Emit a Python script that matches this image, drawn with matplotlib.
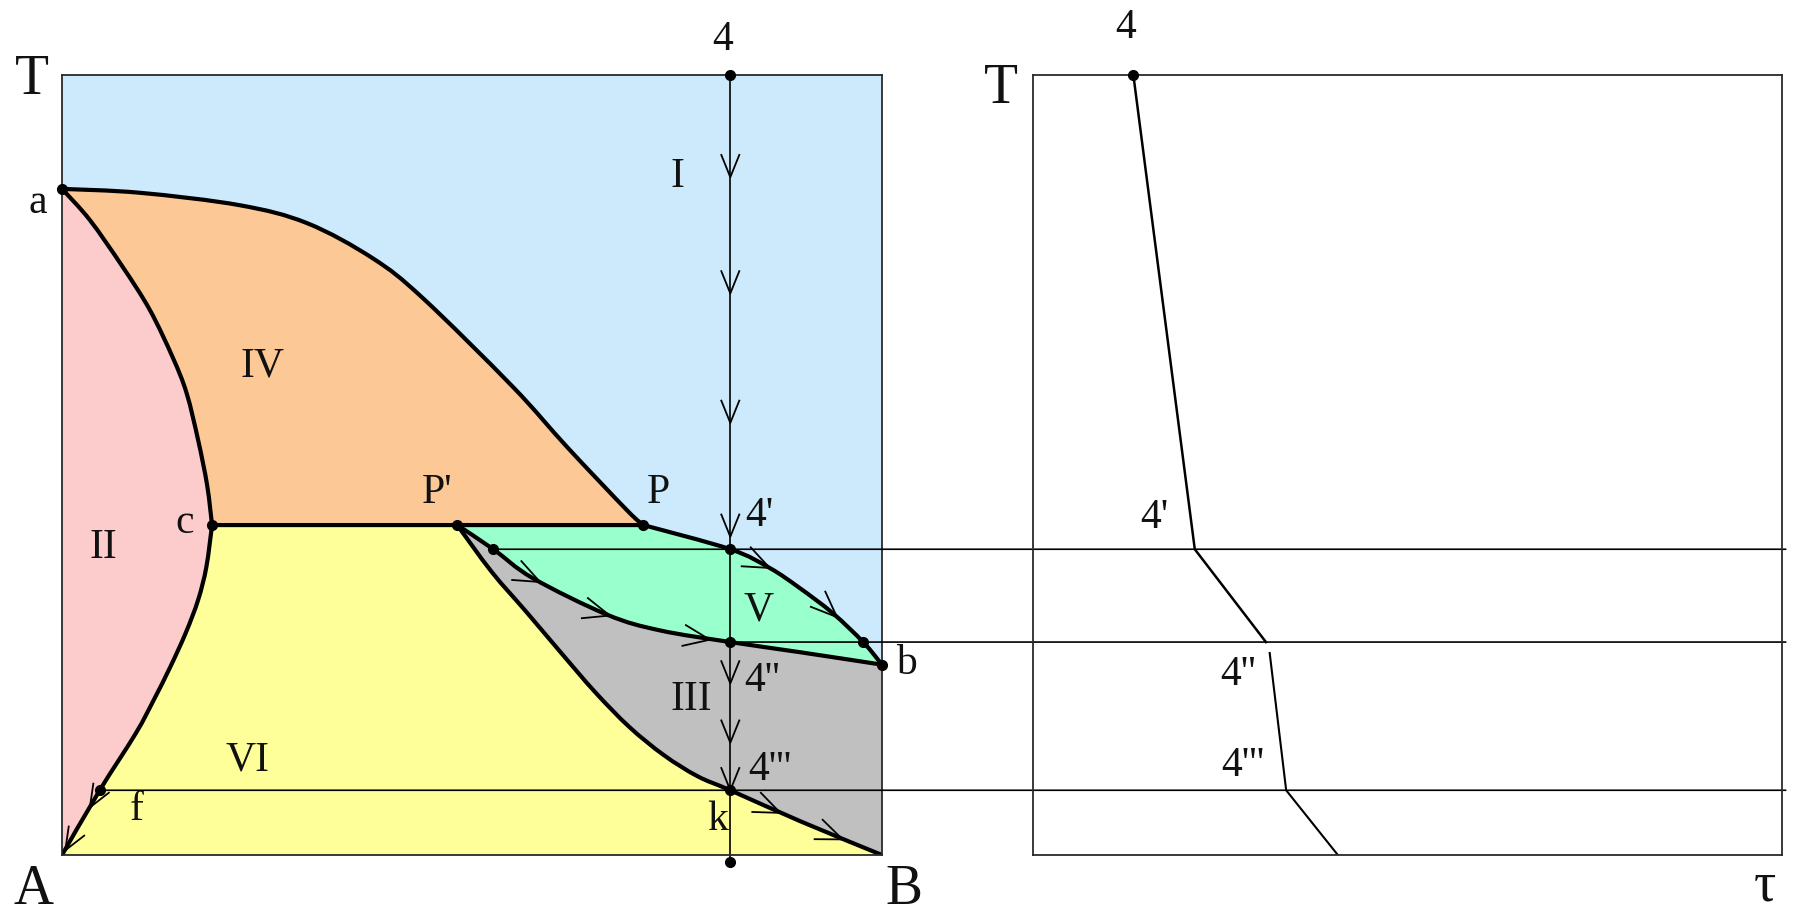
import numpy as np
import matplotlib
matplotlib.use("Agg")
import matplotlib.pyplot as plt
from matplotlib.patches import PathPatch, ConnectionPatch
from matplotlib.path import Path

plt.rcParams['font.family'] = ['Liberation Serif', 'DejaVu Serif']

# A-B diagram: X = % B, T in relative units (0 = bottom of box, 100 = top)
T_per = 42.3          # horizontal c - P' - P
X_alloy = 81.5        # alloy 4
T_4a, T_4b, T_4c = 39.2, 27.3, 8.3   # 4', 4'', 4'''

# liquidus a -> P
liq_x = [0, 9.5, 21.7, 29.9, 37.9, 44.0, 55.0, 61.6, 68.9, 70.9]
liq_t = [85.4, 84.9, 83.3, 81.0, 76.5, 71.4, 60.0, 52.3, 44.2, T_per]
# solidus a -> c
sol_x = [0, 3.4, 7.4, 10.7, 13.5, 15.2, 16.6, 17.7, 18.3]
sol_t = [85.4, 81.4, 75.4, 69.9, 63.8, 59.2, 53.2, 47.4, T_per]
# solvus c -> f -> A
svs_x = [18.3, 17.6, 16.6, 15.1, 13.2, 11.2, 9.0, 4.6, 0]
svs_t = [T_per, 36.9, 32.7, 28.5, 24.1, 19.9, 15.6, T_4c, 0]
# P' -> k -> B
pkb_x = [48.2, 52.4, 56.6, 60.8, 65.0, 69.2, 73.4, 77.5, 81.5, 90.1, 100]
pkb_t = [T_per, 36.3, 31.2, 26.0, 20.9, 16.4, 12.8, 10.1, T_4c, 4.3, 0]
# P -> 4' -> b
up_x = [70.9, 81.5, 86.3, 90.0, 94.0, 97.7, 100]
up_t = [T_per, T_4a, 36.8, 34.2, 31.0, T_4b, 24.4]
# P' -> 4'' -> b
lo_x = [48.2, 52.6, 57.4, 66.5, 72.9, 81.5, 90.0, 100]
lo_t = [T_per, T_4a, 35.5, 30.8, 28.8, T_4b, 26.0, 24.4]
# horizontal c -> P
hor_x = [18.3, 70.9]
hor_t = [T_per, T_per]

# marked points
dot_x = [0, 18.3, 48.2, 70.9, X_alloy, X_alloy, X_alloy, X_alloy, X_alloy, 100, 4.6, 52.6, 97.7]
dot_t = [85.4, T_per, T_per, T_per, 100, T_4a, T_4b, T_4c, -0.9, 24.4, T_4c, T_4a, T_4b]

# arrows along the vertical and along the curves (tip positions)
vert_arrows = [86.9, 72.0, 55.4, 40.8, 22.0, 14.4, T_4c]
up_arrows = [(86.3, 36.8), (94.5, 30.5)]
lo_arrows = [(58.3, 35.0), (66.8, 30.7), (79.0, 27.6)]
pkb_arrows = [(87.6, 5.4), (95.2, 2.0)]
svs_arrows = [(3.4, 6.1), (0.4, 0.6)]

# cooling curve of alloy 4 (tau, T)
cool1_tau = [13.4, 21.6, 31.1]
cool1_t = [100, T_4a, T_4b]
cool2_tau = [31.6, 33.8, 40.7]
cool2_t = [25.9, T_4c, 0]

c_blue = '#CCEAFC'
c_pink = '#FCCCCC'
c_orange = '#FCC996'
c_yellow = '#FFFF99'
c_green = '#99FFCC'
c_grey = '#C0C0C0'
ink = '#111111'


def bezier(xs, ts):
    # catmull-rom through the points, as cubic bezier pieces
    p = np.column_stack([xs, ts]).astype(float)
    ext = np.vstack([p[0], p, p[-1]])
    verts = []
    for i in range(len(p) - 1):
        p0, p1, p2, p3 = ext[i], ext[i + 1], ext[i + 2], ext[i + 3]
        verts += [p1 + (p2 - p0) / 6, p2 - (p3 - p1) / 6, p2]
    return p[0], verts


def smooth_path(pieces, close=False):
    verts, codes = [], []
    for k, (xs, ts) in enumerate(pieces):
        start, rest = bezier(xs, ts)
        verts.append(start)
        codes.append(Path.MOVETO if k == 0 else Path.LINETO)
        verts += rest
        codes += [Path.CURVE4] * len(rest)
    if close:
        verts.append(verts[0])
        codes.append(Path.CLOSEPOLY)
    return Path(np.array(verts), codes)


def rev(xs, ts):
    return xs[::-1], ts[::-1]


fig = plt.figure(figsize=(17.94, 9.13), dpi=100)
ax = fig.add_axes([62 / 1794, 58 / 913, 820 / 1794, 780 / 913])
ax2 = fig.add_axes([1033 / 1794, 58 / 913, 749 / 1794, 780 / 913])

for a in (ax, ax2):
    a.set_xlim(0, 100)
    a.set_ylim(0, 100)
    a.set_xticks([])
    a.set_yticks([])
    for s in a.spines.values():
        s.set_linewidth(1.3)
        s.set_color('#2a2a2a')
        s.set_zorder(6)
ax.set_facecolor(c_blue)

liq = (liq_x, liq_t)
sol = (sol_x, sol_t)
svs = (svs_x, svs_t)
pkb = (pkb_x, pkb_t)
up = (up_x, up_t)
lo = (lo_x, lo_t)
hor = (hor_x, hor_t)

regions = [
    ([sol, svs], c_pink),                                        # II
    ([liq, rev(*hor), rev(*sol)], c_orange),                     # IV
    ([svs, ([0, 100], [0, 0]), rev(*pkb), ([48.2, 18.3], [T_per, T_per])], c_yellow),  # VI
    ([up, rev(*lo), ([48.2, 70.9], [T_per, T_per])], c_green),   # V
    ([lo, ([100, 100], [24.4, 0]), rev(*pkb)], c_grey),          # III
]
for pieces, color in regions:
    ax.add_patch(PathPatch(smooth_path(pieces, close=True), facecolor=color,
                           edgecolor='none', zorder=1))

for curve in (liq, sol, svs, pkb, up, lo, hor):
    ax.add_patch(PathPatch(smooth_path([curve]), fill=False, edgecolor='black',
                           lw=3.0, capstyle='round', joinstyle='round', zorder=4))

# vertical of alloy 4
ax.plot([X_alloy, X_alloy], [100, -0.9], color='black', lw=1.2, zorder=3, clip_on=False)

ax.plot(dot_x, dot_t, 'o', color='black', ms=7, zorder=7, clip_on=False)
ax2.plot([cool1_tau[0]], [cool1_t[0]], 'o', color='black', ms=7, zorder=7, clip_on=False)


def v_head(a, x, y, cx, cy, length=24, spread=22):
    pts = a.transData.transform(np.column_stack([cx, cy]))
    tip = a.transData.transform((x, y))
    d = pts[-1] - pts[0]
    for i in range(len(cy) - 1):
        if cy[i] >= y >= cy[i + 1]:
            d = pts[i + 1] - pts[i]
            break
    d = d / np.hypot(*d)
    arms = []
    for sgn in (1, -1):
        ang = np.radians(spread) * sgn
        rot = np.array([[np.cos(ang), -np.sin(ang)], [np.sin(ang), np.cos(ang)]])
        arms.append(tip - length * rot @ d)
    seg = a.transData.inverted().transform(np.array([arms[0], tip, arms[1]]))
    a.plot(seg[:, 0], seg[:, 1], color='black', lw=1.3, zorder=5, clip_on=False)


for t in vert_arrows:
    v_head(ax, X_alloy, t, [X_alloy, X_alloy], [100, -0.9])
for x, t in up_arrows:
    v_head(ax, x, t, up_x, up_t, length=28)
for x, t in lo_arrows:
    v_head(ax, x, t, lo_x, lo_t, length=28)
for x, t in pkb_arrows:
    v_head(ax, x, t, pkb_x, pkb_t, length=28)
for x, t in svs_arrows:
    v_head(ax, x, t, svs_x, svs_t)

# cooling curve
ax2.plot(cool1_tau, cool1_t, color='black', lw=1.8, zorder=4)
ax2.plot(cool2_tau, cool2_t, color='black', lw=1.5, zorder=4)

# horizontals carried over to the cooling curve
for x0, t in [(52.6, T_4a), (X_alloy, T_4b), (4.6, T_4c)]:
    con = ConnectionPatch(xyA=(x0, t), coordsA=ax.transData,
                          xyB=(100.5, t), coordsB=ax2.transData,
                          color='black', lw=1.2, zorder=3)
    ax2.add_artist(con)

big = dict(fontsize=40, color=ink, ha='center', va='center')
small = dict(fontsize=30, color=ink, ha='center', va='center')

ax.text(-3.7, 99.4, 'T', **big)
ax.text(-3.5, -4.5, 'A', **big)
ax.text(102.7, -4.5, 'B', **big)
ax2.text(-4.3, 98.2, 'T', **big)
ax2.text(97.7, -4.1, 'τ', **big)

left_labels = [
    (80.6, 104.5, '4'), (-3.0, 83.6, 'a'), (15.0, 42.6, 'c'),
    (45.7, 46.4, "P'"), (72.7, 46.4, 'P'), (85.1, 43.5, "4'"),
    (103.0, 24.5, 'b'), (85.4, 22.4, "4''"), (86.3, 10.9, "4'''"),
    (80.0, 4.5, 'k'), (9.1, 5.8, 'f'),
    (75.0, 86.9, 'I'), (5.0, 39.4, 'II'), (76.8, 19.9, 'III'),
    (24.4, 62.6, 'IV'), (84.9, 31.4, 'V'), (22.6, 12.2, 'VI'),
]
for x, t, s in left_labels:
    ax.text(x, t, s, zorder=8, **small)

right_labels = [(12.3, 106.0, '4'), (16.2, 43.3, "4'"), (27.4, 23.1, "4''"), (28.0, 11.5, "4'''")]
for x, t, s in right_labels:
    ax2.text(x, t, s, zorder=8, **small)

fig.savefig('out.png', dpi=100)
